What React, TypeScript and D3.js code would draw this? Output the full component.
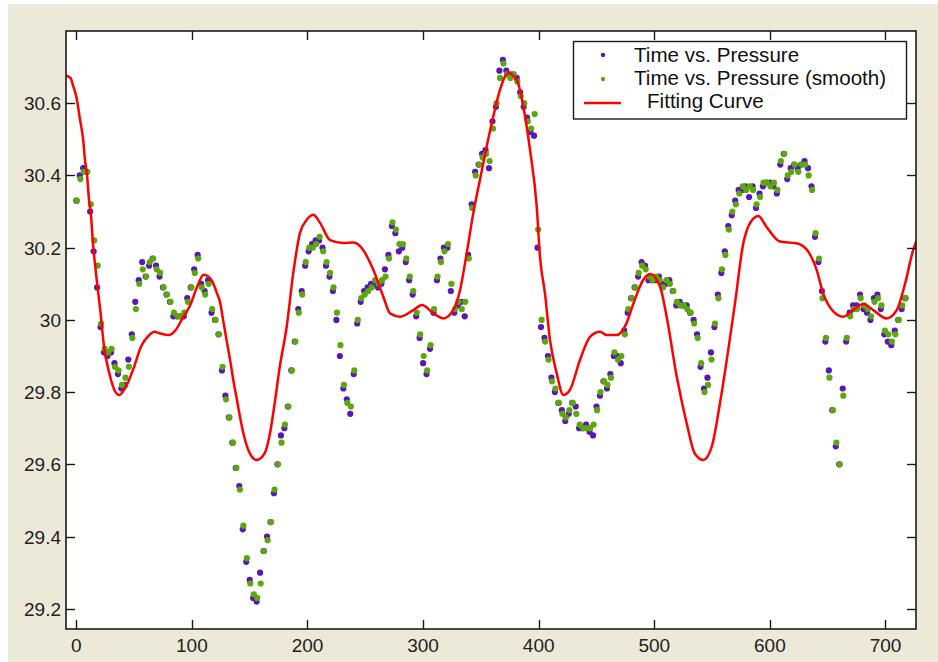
import React, { useEffect, useRef } from 'react'
import * as d3 from 'd3'

// sampling grid (hours) for the two measured series
const sampleHours = d3.range(0, 720, 3)

const pressureRaw = [
  30.33, 30.40, 30.42, 30.41, 30.30, 30.19, 30.09, 29.98, 29.91, 29.90,
  29.91, 29.88, 29.85, 29.81, 29.82, 29.89, 29.96, 30.05, 30.11, 30.16,
  30.12, 30.15, 30.17, 30.15, 30.12, 30.09, 30.07, 30.05, 30.01, 30.01,
  30.01, 30.01, 30.06, 30.09, 30.14, 30.18, 30.10, 30.08, 30.11, 30.02,
  30.00, 29.96, 29.86, 29.79, 29.73, 29.66, 29.59, 29.54, 29.42, 29.33,
  29.28, 29.23, 29.22, 29.30, 29.36, 29.40, 29.44, 29.52, 29.60, 29.68,
  29.70, 29.76, 29.86, 29.94, 30.03, 30.08, 30.15, 30.19, 30.21, 30.22,
  30.22, 30.20, 30.15, 30.12, 30.08, 30.00, 29.90, 29.81, 29.78, 29.74,
  29.85, 29.99, 30.05, 30.08, 30.09, 30.10, 30.10, 30.09, 30.10, 30.14,
  30.18, 30.26, 30.24, 30.19, 30.20, 30.16, 30.11, 30.07, 30.01, 29.95,
  29.88, 29.85, 29.92, 30.02, 30.11, 30.17, 30.20, 30.20, 30.08, 30.02,
  30.04, 30.05, 30.01, 30.18, 30.32, 30.41, 30.43, 30.46, 30.47, 30.42,
  30.55, 30.59, 30.69, 30.72, 30.69, 30.68, 30.68, 30.67, 30.63, 30.59,
  30.56, 30.52, 30.51, 30.20, 29.98, 29.95, 29.90, 29.84, 29.80, 29.77,
  29.75, 29.72, 29.74, 29.77, 29.76, 29.70, 29.70, 29.71, 29.69, 29.68,
  29.76, 29.79, 29.83, 29.81, 29.85, 29.90, 29.90, 29.88, 29.97, 30.02,
  30.06, 30.09, 30.12, 30.16, 30.15, 30.11, 30.11, 30.11, 30.12, 30.10,
  30.10, 30.11, 30.08, 30.04, 30.05, 30.04, 30.04, 30.02, 30.00, 29.96,
  29.87, 29.81, 29.84, 29.91, 29.98, 30.07, 30.13, 30.19, 30.26, 30.29,
  30.33, 30.36, 30.36, 30.37, 30.34, 30.37, 30.31, 30.35, 30.37, 30.38,
  30.38, 30.37, 30.35, 30.43, 30.46, 30.39, 30.42, 30.43, 30.42, 30.43,
  30.44, 30.42, 30.37, 30.23, 30.16, 30.08, 29.94, 29.86, 29.75, 29.65,
  29.60, 29.81, 29.94, 30.02, 30.04, 30.04, 30.07, 30.03, 30.02, 30.00,
  30.06, 30.07, 30.03, 29.96, 29.94, 29.93, 29.97, 30.00, 30.03, 30.06,
]

const pressureSmooth = [
  30.33, 30.39, 30.41, 30.41, 30.32, 30.22, 30.15, 29.99, 29.92, 29.91,
  29.92, 29.87, 29.86, 29.82, 29.84, 29.87, 29.95, 30.03, 30.10, 30.14,
  30.12, 30.16, 30.17, 30.14, 30.13, 30.09, 30.07, 30.05, 30.02, 30.01,
  30.01, 30.02, 30.05, 30.09, 30.13, 30.17, 30.09, 30.07, 30.10, 30.03,
  30.00, 29.96, 29.87, 29.78, 29.73, 29.66, 29.59, 29.53, 29.43, 29.34,
  29.27, 29.24, 29.23, 29.27, 29.36, 29.39, 29.44, 29.53, 29.60, 29.66,
  29.71, 29.76, 29.86, 29.94, 30.02, 30.07, 30.16, 30.20, 30.20, 30.21,
  30.23, 30.19, 30.16, 30.13, 30.09, 30.02, 29.93, 29.82, 29.77, 29.76,
  29.86, 30.00, 30.06, 30.07, 30.08, 30.09, 30.11, 30.10, 30.11, 30.12,
  30.17, 30.27, 30.25, 30.21, 30.21, 30.17, 30.12, 30.08, 30.02, 29.96,
  29.90, 29.86, 29.93, 30.03, 30.12, 30.16, 30.19, 30.21, 30.10, 30.03,
  30.05, 30.03, 30.05, 30.17, 30.31, 30.40, 30.43, 30.45, 30.46, 30.44,
  30.53, 30.60, 30.67, 30.71, 30.68, 30.67, 30.68, 30.66, 30.62, 30.60,
  30.55, 30.53, 30.57, 30.25, 30.00, 29.94, 29.89, 29.83, 29.81, 29.77,
  29.74, 29.73, 29.75, 29.77, 29.74, 29.71, 29.70, 29.70, 29.70, 29.71,
  29.75, 29.80, 29.83, 29.82, 29.84, 29.91, 29.89, 29.90, 29.96, 30.03,
  30.06, 30.09, 30.13, 30.15, 30.14, 30.12, 30.11, 30.12, 30.11, 30.09,
  30.11, 30.10, 30.08, 30.05, 30.04, 30.04, 30.03, 30.02, 29.99, 29.95,
  29.88, 29.80, 29.82, 29.89, 29.99, 30.06, 30.14, 30.18, 30.25, 30.30,
  30.32, 30.35, 30.37, 30.36, 30.37, 30.36, 30.32, 30.34, 30.38, 30.38,
  30.37, 30.38, 30.36, 30.44, 30.46, 30.40, 30.41, 30.43, 30.41, 30.43,
  30.43, 30.40, 30.36, 30.24, 30.17, 30.06, 29.95, 29.84, 29.75, 29.66,
  29.60, 29.79, 29.95, 30.01, 30.03, 30.03, 30.06, 30.04, 30.03, 30.01,
  30.05, 30.06, 30.04, 29.97, 29.96, 29.94, 29.96, 30.00, 30.04, 30.06,
]

const fitHours = [
  -9, -5, -3, 0.6, 3, 6, 7.5, 9.3, 11, 12.7, 14.2, 17, 21, 24, 28.5, 33, 37, 43, 50, 56,
  63, 67.5, 72, 80, 86, 92, 98, 105, 110, 117, 121.5, 124.5, 127, 130, 133, 136, 139, 141.6, 144.5, 150,
  156, 163, 167.6, 172, 176, 182, 187.7, 193.5, 199.3, 205, 211, 219.5, 231, 240, 248, 257, 265.6, 271.4, 280, 291.5,
  299, 309, 317.5, 326, 332, 337.7, 343.4, 349.2, 355, 360.7, 366.5, 373.7, 381, 386.7, 392.5, 398.3, 401.1, 405.4, 409.8, 415.6,
  421.3, 427, 435.7, 444.4, 453, 459, 467.5, 476, 482, 490.5, 496.3, 505, 510.7, 519.4, 528, 535, 542.4, 549.7, 556.8, 564,
  569.8, 577, 582.8, 590, 597, 608.7, 623, 632, 640.5, 646, 655, 663.5, 672, 681, 689.4, 701, 709.7, 717, 724, 727,
]

const fitPressure = [
  30.676, 30.670, 30.651, 30.609, 30.559, 30.498, 30.443, 30.401, 30.332, 30.291, 30.221, 30.130, 30.019, 29.926, 29.853, 29.806, 29.792, 29.815, 29.870, 29.926,
  29.958, 29.967, 29.963, 29.958, 29.972, 30.005, 30.037, 30.095, 30.125, 30.110, 30.075, 30.047, 30.000, 29.944, 29.890, 29.830, 29.778, 29.732, 29.687, 29.631,
  29.612, 29.631, 29.687, 29.778, 29.870, 29.981, 30.130, 30.241, 30.277, 30.291, 30.268, 30.221, 30.213, 30.214, 30.194, 30.138, 30.064, 30.018, 30.009, 30.027,
  30.041, 30.018, 30.004, 30.027, 30.083, 30.184, 30.295, 30.388, 30.480, 30.563, 30.637, 30.683, 30.665, 30.591, 30.471, 30.314, 30.175, 30.074, 29.944, 29.852,
  29.792, 29.806, 29.889, 29.953, 29.967, 29.958, 29.958, 29.991, 30.046, 30.111, 30.127, 30.092, 30.009, 29.843, 29.714, 29.630, 29.612, 29.649, 29.769, 29.917,
  30.046, 30.212, 30.268, 30.288, 30.258, 30.217, 30.212, 30.194, 30.138, 30.074, 30.023, 30.009, 30.027, 30.044, 30.027, 30.004, 30.027, 30.101, 30.194, 30.221,
]

const xTicks = [0, 100, 200, 300, 400, 500, 600, 700]
const yTicks = [29.2, 29.4, 29.6, 29.8, 30, 30.2, 30.4, 30.6]
const yTickLabels = ['29.2', '29.4', '29.6', '29.8', '30', '30.2', '30.4', '30.6']
const legendLabels = ['Time vs. Pressure', 'Time vs. Pressure (smooth)', 'Fitting Curve']

const W = 938
const H = 662
const box = { left: 66, top: 31, right: 916, bottom: 629 }
const PURPLE = '#5a16b6'
const GREEN = '#5aa80c'
const RED = '#ff0000'
const FONT = "'Liberation Sans', Arial, sans-serif"

const App = () => {
  const svgRef = useRef<SVGSVGElement>(null)

  useEffect(() => {
    const svg: any = d3.select(svgRef.current)
    svg.selectAll('*').remove()

    const x = d3.scaleLinear([-8.9, 726.4], [box.left, box.right])
    const y = d3.scaleLinear([29.144, 30.80], [box.bottom, box.top])

    // window background
    svg.append('rect').attr('x', 8).attr('y', 4).attr('width', W - 8).attr('height', H - 4).attr('fill', '#ece9d8')
    svg.append('rect')
      .attr('x', box.left).attr('y', box.top)
      .attr('width', box.right - box.left).attr('height', box.bottom - box.top)
      .attr('fill', '#fff')

    svg.append('defs').append('clipPath').attr('id', 'plotclip')
      .append('rect')
      .attr('x', box.left).attr('y', box.top)
      .attr('width', box.right - box.left).attr('height', box.bottom - box.top)

    const plot = svg.append('g').attr('clip-path', 'url(#plotclip)')

    plot.append('g').selectAll('circle')
      .data(sampleHours)
      .join('circle')
      .attr('cx', (d: number) => x(d))
      .attr('cy', (_: number, i: number) => y(pressureRaw[i]))
      .attr('r', 3.1)
      .attr('fill', PURPLE)

    plot.append('g').selectAll('circle')
      .data(sampleHours)
      .join('circle')
      .attr('cx', (d: number) => x(d) + 0.6)
      .attr('cy', (_: number, i: number) => y(pressureSmooth[i]))
      .attr('r', 3.1)
      .attr('fill', GREEN)

    const line = d3.line<number>()
      .x((d) => x(d))
      .y((_, i) => y(fitPressure[i]))
      .curve(d3.curveMonotoneX)

    plot.append('path')
      .attr('d', line(fitHours))
      .attr('fill', 'none')
      .attr('stroke', RED)
      .attr('stroke-width', 2.5)

    // axes box
    const axes = svg.append('g').attr('stroke', '#1a1a1a').attr('fill', 'none')
    axes.append('rect')
      .attr('x', box.left).attr('y', box.top)
      .attr('width', box.right - box.left).attr('height', box.bottom - box.top)
      .attr('stroke-width', 1.6)

    const tickLen = 9
    xTicks.forEach((t) => {
      const px = Math.round(x(t)) + 0.5
      axes.append('line').attr('x1', px).attr('x2', px).attr('y1', box.bottom).attr('y2', box.bottom - tickLen).attr('stroke-width', 1.4)
      axes.append('line').attr('x1', px).attr('x2', px).attr('y1', box.top).attr('y2', box.top + tickLen).attr('stroke-width', 1.4)
    })
    yTicks.forEach((v) => {
      const py = Math.round(y(v)) + 0.5
      axes.append('line').attr('x1', box.left).attr('x2', box.left + tickLen).attr('y1', py).attr('y2', py).attr('stroke-width', 1.4)
      axes.append('line').attr('x1', box.right).attr('x2', box.right - tickLen).attr('y1', py).attr('y2', py).attr('stroke-width', 1.4)
    })

    const labels = svg.append('g').attr('font-family', FONT).attr('font-size', 19).attr('fill', '#222')
    labels.selectAll('text.xt')
      .data(xTicks)
      .join('text')
      .attr('class', 'xt')
      .attr('x', (d: number) => x(d))
      .attr('y', 652)
      .attr('text-anchor', 'middle')
      .text((d: number) => String(d))
    labels.selectAll('text.yt')
      .data(yTicks)
      .join('text')
      .attr('class', 'yt')
      .attr('x', 61)
      .attr('y', (d: number) => y(d) + 7)
      .attr('text-anchor', 'end')
      .text((_: number, i: number) => yTickLabels[i])

    // legend
    const lg = svg.append('g')
    lg.append('rect')
      .attr('x', 573.5).attr('y', 41.5).attr('width', 333).attr('height', 77.5)
      .attr('fill', '#fff').attr('stroke', '#1a1a1a').attr('stroke-width', 1.4)
    lg.append('circle').attr('cx', 603).attr('cy', 55).attr('r', 2.2).attr('fill', PURPLE)
    lg.append('circle').attr('cx', 603).attr('cy', 79).attr('r', 2.2).attr('fill', GREEN)
    lg.append('line').attr('x1', 584).attr('x2', 621).attr('y1', 103).attr('y2', 103)
      .attr('stroke', RED).attr('stroke-width', 2.5)
    const lgX = [634, 634, 647]
    const lgY = [62, 85, 108]
    lg.selectAll('text')
      .data(legendLabels)
      .join('text')
      .attr('x', (_: string, i: number) => lgX[i])
      .attr('y', (_: string, i: number) => lgY[i])
      .attr('font-family', FONT)
      .attr('font-size', 20.6)
      .attr('fill', '#111')
      .text((d: string) => d)
  }, [])

  return (
    <svg
      ref={svgRef}
      width={W}
      height={H}
      style={{ position: 'absolute', left: 0, top: 0, display: 'block', background: '#fff' }}
    />
  )
}

export default App
